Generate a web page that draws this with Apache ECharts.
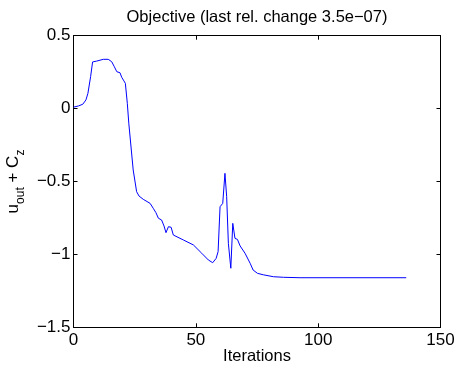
<!DOCTYPE html>
<html>
<head>
<meta charset="utf-8">
<script src="https://cdn.jsdelivr.net/npm/echarts@6/dist/echarts.min.js"></script>
<style>
  html, body { margin: 0; padding: 0; background: #fff; }
  #chart { width: 458px; height: 369px; }
</style>
</head>
<body>
<div id="chart"></div>
<script>
// values
const iterations = [
  0, 2, 3.8, 5.1, 5.9, 7, 7.8, 9.5, 12.2, 14.2, 15.6, 16.7, 17.7, 19, 19.7, 20.6, 21.2,
  22, 22.6, 24.4, 25.8, 26.8, 28.5, 31.3, 32.6, 33.7, 34.7, 36, 37, 37.8, 38.8, 39.9,
  40.8, 44.9, 49, 52.4, 55.1, 56.9, 58.3, 59.1, 59.9, 61, 61.9, 62.6, 63.3, 64.3, 65.1,
  66, 67, 68.1, 70.1, 72.2, 73.4, 75.2, 77.6, 81.7, 85.8, 92.6, 136
];
const objective = [
  0.01, 0.018, 0.03, 0.06, 0.105, 0.22, 0.32, 0.326, 0.338, 0.338, 0.322, 0.287, 0.253, 0.246, 0.215, 0.19, 0.173,
  0.036, -0.1, -0.421, -0.57, -0.6, -0.622, -0.65, -0.684, -0.714, -0.752, -0.764, -0.805, -0.851, -0.81, -0.814,
  -0.867, -0.901, -0.935, -0.992, -1.038, -1.057, -1.027, -0.981, -0.673, -0.65, -0.444, -0.604, -0.924, -1.095, -0.787,
  -0.89, -0.897, -0.942, -0.992, -1.061, -1.107, -1.13, -1.14, -1.153, -1.157, -1.16, -1.16
];
const xTicks = { min: 0, max: 150, interval: 50 };
const yTicks = { min: -1.5, max: 0.5, interval: 0.5 };
const titleText = "Objective (last rel. change 3.5e\u221207)";

const font = "Liberation Sans";
const minus = (v) => String(v).replace("-", "\u2212");

const chart = echarts.init(document.getElementById("chart"));

const boxAxis = {
  axisLine: { show: true, onZero: false, lineStyle: { color: "#000", width: 1 } },
  axisTick: { show: true, inside: true, length: 4, lineStyle: { color: "#000" } },
  splitLine: { show: false },
  nameMoveOverlap: false,
};

chart.setOption({
  animation: false,
  textStyle: { fontFamily: font, color: "#000" },
  grid: { left: 73.5, right: 17.5, top: 35.7, bottom: 41.7, containLabel: false, outerBoundsMode: "none" },
  xAxis: [
    {
      type: "value",
      position: "bottom",
      ...xTicks,
      ...boxAxis,
      axisLabel: { fontFamily: font, fontSize: 17, color: "#000", margin: 5 },
      name: "Iterations",
      nameLocation: "middle",
      nameGap: 21,
      nameTextStyle: { fontFamily: font, fontSize: 16.5, color: "#000" },
    },
    {
      type: "value",
      position: "top",
      ...xTicks,
      ...boxAxis,
      axisLabel: { show: false },
      name: titleText,
      nameLocation: "middle",
      nameGap: 10,
      nameTextStyle: { fontFamily: font, fontSize: 16.5, color: "#000" },
    },
  ],
  yAxis: [
    {
      type: "value",
      position: "left",
      ...yTicks,
      ...boxAxis,
      axisLabel: { fontFamily: font, fontSize: 17, color: "#000", margin: 3, formatter: minus },
      name: "{m|u}{s|out}{m| + C}{s|z}",
      nameLocation: "middle",
      nameGap: 47,
      nameRotate: 90,
      nameTextStyle: {
        rich: {
          m: { fontFamily: font, fontSize: 17, color: "#000", lineHeight: 26, verticalAlign: "middle" },
          s: { fontFamily: font, fontSize: 12, color: "#000", lineHeight: 26, verticalAlign: "bottom" },
        },
      },
    },
    {
      type: "value",
      position: "right",
      ...yTicks,
      ...boxAxis,
      axisLabel: { show: false },
    },
  ],
  series: [
    {
      type: "line",
      data: iterations.map((x, i) => [x, objective[i]]),
      showSymbol: false,
      smooth: false,
      lineStyle: { color: "#0000ff", width: 1 },
    },
  ],
});
</script>
</body>
</html>
